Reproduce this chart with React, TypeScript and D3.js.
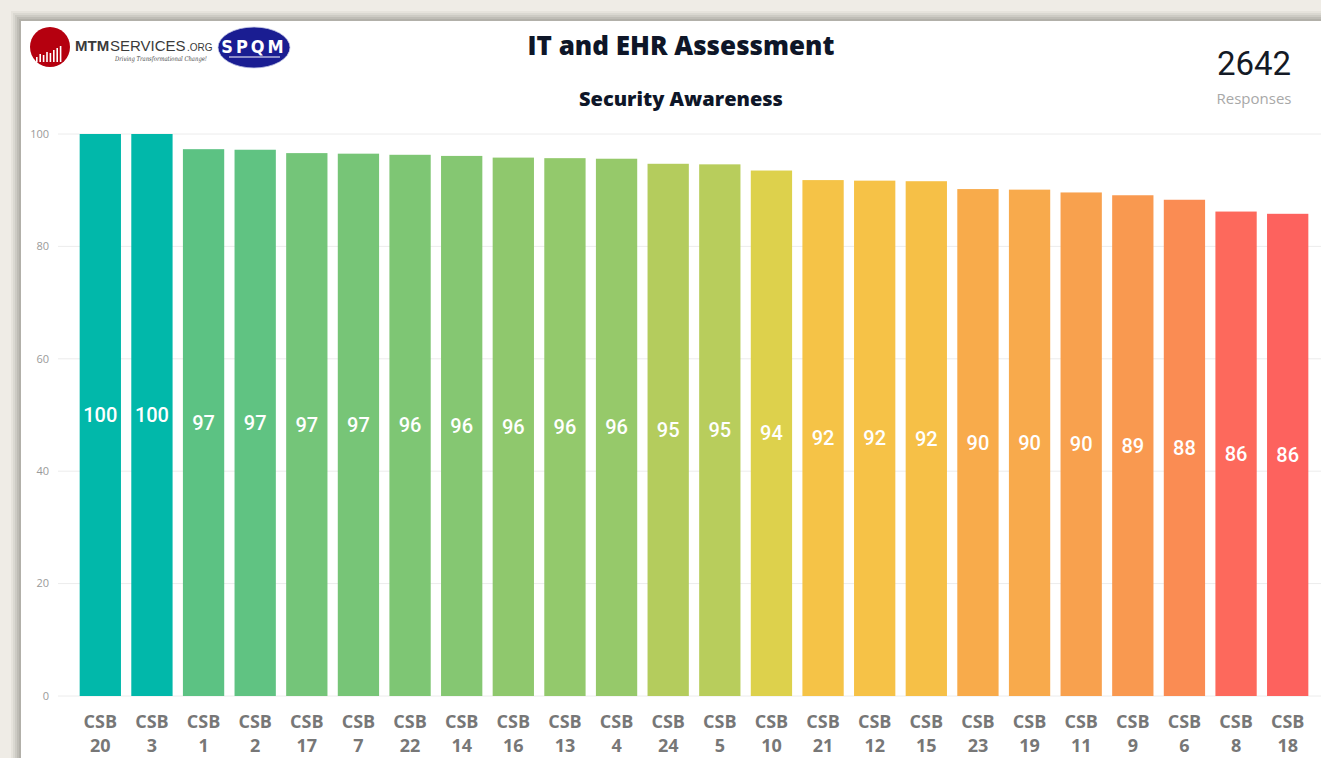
import React, { useEffect, useRef } from 'react';
import * as d3 from 'd3';

const categories = [
  'CSB 20', 'CSB 3', 'CSB 1', 'CSB 2', 'CSB 17', 'CSB 7', 'CSB 22', 'CSB 14',
  'CSB 16', 'CSB 13', 'CSB 4', 'CSB 24', 'CSB 5', 'CSB 10', 'CSB 21', 'CSB 12',
  'CSB 15', 'CSB 23', 'CSB 19', 'CSB 11', 'CSB 9', 'CSB 6', 'CSB 8', 'CSB 18'
];
const scores = [
  100, 100, 97.3, 97.2, 96.6, 96.5, 96.3, 96.1,
  95.8, 95.7, 95.6, 94.7, 94.6, 93.5, 91.8, 91.7,
  91.6, 90.2, 90.1, 89.6, 89.1, 88.3, 86.2, 85.8
];
const yTicks = [0, 20, 40, 60, 80, 100];

const title = 'IT and EHR Assessment';
const subtitle = 'Security Awareness';
const responses = 2642;

const W = 1321;
const H = 758;

export default function App() {
  const svgRef = useRef<SVGSVGElement>(null);

  useEffect(() => {
    const svg = d3.select(svgRef.current);
    svg.selectAll('*').remove();

    // card background with soft shadow on top/left
    svg.append('rect').attr('width', W).attr('height', H).attr('fill', '#efece6');
    const shades = ['#e6e3dc', '#dad8d1', '#cdcbc4', '#bfbdb6', '#b2b0a9'];
    shades.forEach((c, i) => {
      const o = 11 + i * 2;
      svg.append('rect')
        .attr('x', o).attr('y', o)
        .attr('width', W).attr('height', H)
        .attr('fill', c);
    });
    svg.append('rect')
      .attr('x', 21).attr('y', 21)
      .attr('width', W).attr('height', H)
      .attr('fill', '#ffffff');

    const x = d3.scaleBand<string>()
      .domain(categories)
      .range([74.5, 1313.5])
      .paddingInner(0.2)
      .paddingOuter(0.1);

    const y = d3.scaleLinear().domain([0, 100]).range([696, 134]);

    const color = d3.scaleLinear<string>()
      .domain([85.8, 90, 91.7, 93.5, 100])
      .range(['#fd625e', '#f8a84c', '#f6c247', '#ddd14c', '#01b8aa'])
      .clamp(true);

    // grid + y ticks
    const grid = svg.append('g');
    yTicks.forEach(t => {
      grid.append('line')
        .attr('x1', 58).attr('x2', W)
        .attr('y1', y(t)).attr('y2', y(t))
        .attr('stroke', '#ececec')
        .attr('stroke-width', 1);
      grid.append('text')
        .attr('x', 49).attr('y', y(t))
        .attr('dy', '0.35em')
        .attr('text-anchor', 'end')
        .style('font-family', '"Open Sans", sans-serif')
        .style('font-size', '11px')
        .style('fill', '#9a9a9a')
        .text(t);
    });

    // bars
    svg.append('g').selectAll('rect')
      .data(scores)
      .join('rect')
      .attr('x', (_, i) => x(categories[i])!)
      .attr('y', d => y(d))
      .attr('width', x.bandwidth())
      .attr('height', d => y(0) - y(d))
      .attr('fill', d => color(d));

    // value labels, centred in each bar
    svg.append('g').selectAll('text')
      .data(scores)
      .join('text')
      .attr('x', (_, i) => x(categories[i])! + x.bandwidth() / 2)
      .attr('y', d => (y(d) + y(0)) / 2)
      .attr('dy', '0.35em')
      .attr('text-anchor', 'middle')
      .style('font-family', 'Roboto, sans-serif')
      .style('font-weight', 500)
      .style('font-size', '20px')
      .style('fill', '#ffffff')
      .text(d => Math.round(d));

    // category labels on two lines
    const xl = svg.append('g');
    categories.forEach(c => {
      const [a, b] = c.split(' ');
      const cx = x(c)! + x.bandwidth() / 2;
      const t = xl.append('text')
        .attr('text-anchor', 'middle')
        .style('font-family', '"Open Sans", sans-serif')
        .style('font-weight', 700)
        .style('font-size', '18px')
        .style('fill', '#777777');
      t.append('tspan').attr('x', cx).attr('y', 728).text(a);
      t.append('tspan').attr('x', cx).attr('y', 752).text(b);
    });

    // titles
    svg.append('text')
      .attr('x', 681).attr('y', 55)
      .attr('text-anchor', 'middle')
      .style('font-family', '"Open Sans", sans-serif')
      .style('font-weight', 800)
      .style('font-size', '26px')
      .style('fill', '#0e1628')
      .text(title);
    svg.append('text')
      .attr('x', 681).attr('y', 106)
      .attr('text-anchor', 'middle')
      .style('font-family', '"Open Sans", sans-serif')
      .style('font-weight', 800)
      .style('font-size', '20px')
      .style('fill', '#0e1628')
      .text(subtitle);

    // card value
    svg.append('text')
      .attr('x', 1254).attr('y', 75)
      .attr('text-anchor', 'middle')
      .style('font-family', 'Roboto, sans-serif')
      .style('font-size', '33px')
      .style('fill', '#141a26')
      .text(responses);
    svg.append('text')
      .attr('x', 1254).attr('y', 104)
      .attr('text-anchor', 'middle')
      .style('font-family', '"Open Sans", sans-serif')
      .style('font-size', '15px')
      .style('fill', '#a8a8a8')
      .text('Responses');

    // MTM logo
    const logo = svg.append('g');
    logo.append('circle').attr('cx', 50).attr('cy', 47).attr('r', 20).attr('fill', '#b5000f');
    const barH = [5, 8, 7, 10, 9, 12, 14, 16];
    barH.forEach((h, i) => {
      logo.append('rect')
        .attr('x', 36 + i * 3.4).attr('y', 62 - h)
        .attr('width', 1.6).attr('height', h)
        .attr('fill', '#ffffff');
    });
    const logoFont = '"Liberation Sans", Arial, sans-serif';
    const parts: [string, number, number, number][] = [
      ['MTM', 75, 15, 700],
      ['SERVICES', 110, 15, 400],
      ['.ORG', 187, 10, 400]
    ];
    parts.forEach(([s, px, fs, fw]) => {
      logo.append('text')
        .attr('x', px).attr('y', 51)
        .style('font-family', logoFont)
        .style('font-size', `${fs}px`)
        .style('font-weight', fw)
        .style('fill', '#3a3a3a')
        .text(s);
    });
    logo.append('text')
      .attr('x', 161).attr('y', 61)
      .attr('text-anchor', 'middle')
      .attr('textLength', 92)
      .attr('lengthAdjust', 'spacingAndGlyphs')
      .style('font-family', '"DejaVu Serif", serif')
      .style('font-style', 'italic')
      .style('font-size', '6.5px')
      .style('fill', '#444')
      .text('Driving Transformational Change!');

    // SPQM logo
    logo.append('ellipse')
      .attr('cx', 254).attr('cy', 47.5).attr('rx', 36).attr('ry', 20.5)
      .attr('fill', '#1a1d92')
      .attr('stroke', '#c8cbe8').attr('stroke-width', 0.8);
    logo.append('text')
      .attr('x', 254).attr('y', 53)
      .attr('text-anchor', 'middle')
      .style('font-family', '"DejaVu Sans Condensed", "DejaVu Sans", sans-serif')
      .style('font-weight', 700)
      .style('font-size', '18px')
      .style('letter-spacing', '3px')
      .style('fill', '#ffffff')
      .text('SPQM');
    logo.append('line')
      .attr('x1', 229).attr('x2', 280).attr('y1', 57).attr('y2', 57)
      .attr('stroke', '#ffffff').attr('stroke-width', 1.2);
  }, []);

  return (
    <svg
      ref={svgRef}
      width={W}
      height={H}
      style={{ position: 'absolute', left: 0, top: 0, display: 'block' }}
    />
  );
}
